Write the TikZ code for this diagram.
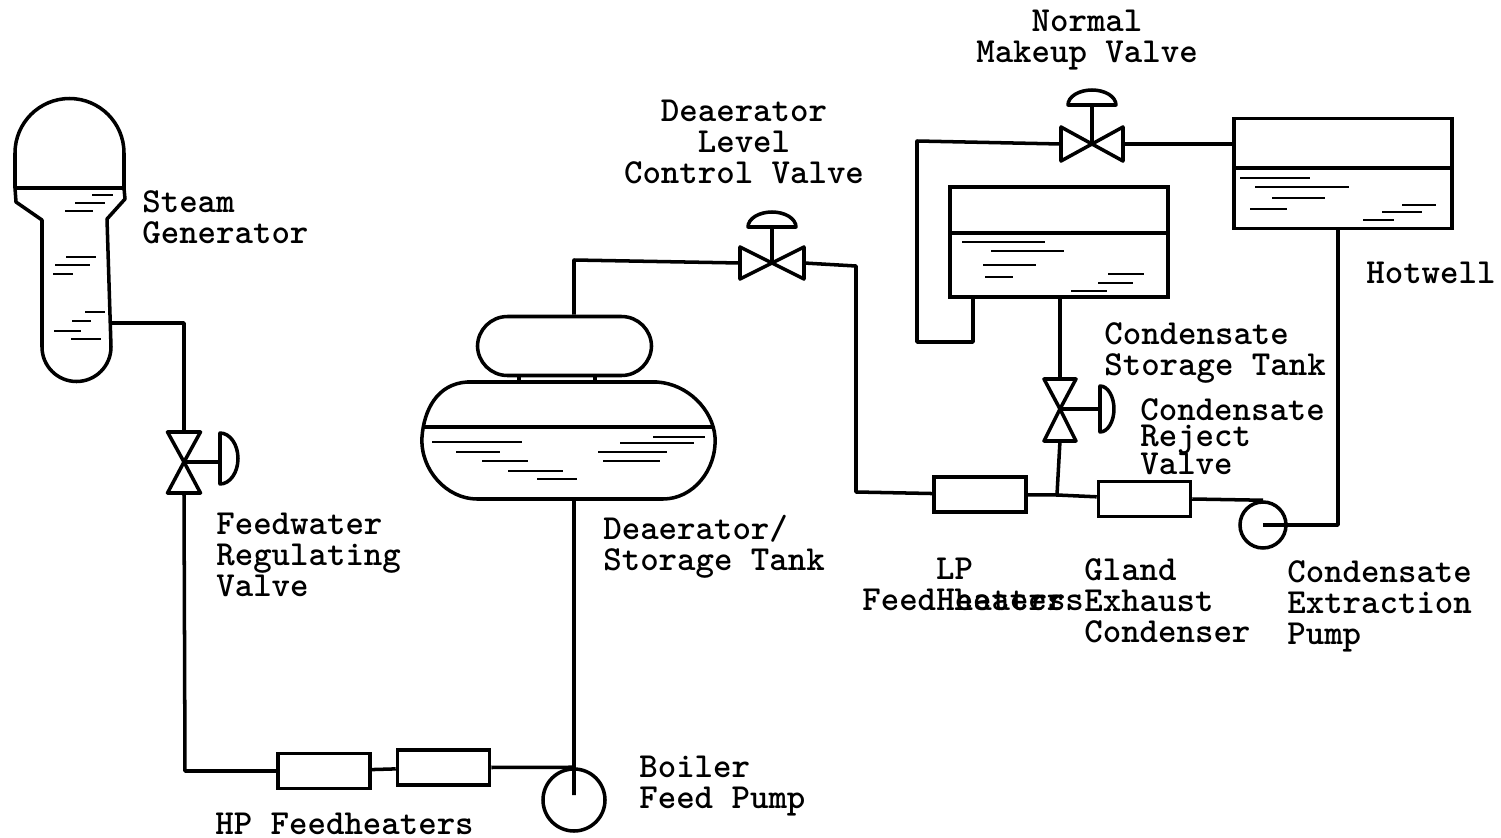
\documentclass[tikz,border=0pt]{standalone}
\usepackage{tikz,amsmath}
\usetikzlibrary{calc}
\tikzset{
	pipe/.style={black,line width=2pt,line join=round},
	ripple/.style={black,line width=1.4pt},
	heater/.style={draw,black,line width=2pt,rectangle,minimum width=1.84cm,minimum height=0.7cm},
	tank/.style={draw,black,line width=2pt,rectangle,minimum width=4.36cm,minimum height=2.2cm},
	pump/.style={draw,black,line width=2pt,circle},
	tag/.style={font=\fontsize{20}{17.6}\selectfont\ttfamily\bfseries,align=left,anchor=north west},
	ctag/.style={tag,align=center,anchor=north}
}
\begin{document}
\begin{tikzpicture}[scale=0.2]
		\tikzstyle{every node}+=[inner sep=0pt]
		\useasboundingbox (0,0) rectangle (150.1,-83.8);
		\coordinate (sgout) at (11.1,-32.3);
		\coordinate (fwv) at (18.4,-46.2);
		\coordinate (dlv) at (77.2,-26.3);
		\coordinate (nmv) at (109.2,-14.4);
		\coordinate (crv) at (106,-40.9);
		\coordinate (bend1) at (18.5,-77.1);
		\coordinate (bend2) at (57.4,-26);
		\coordinate (bend3) at (85.6,-26.6);
		\coordinate (bend4) at (85.6,-49.2);
		\coordinate (bend5) at (91.7,-14.1);
		\coordinate (bend6) at (91.7,-34.2);
		\coordinate (bend7) at (97.3,-34.2);
		\coordinate (tee) at (105.7,-49.5);
		\coordinate (bend8) at (133.8,-52.5);
		\node (hpa) [heater] at (32.4,-77.1) {};
		\node (hpb) [heater] at (44.35,-76.75) {};
		\node (bfp) [pump,minimum size=1.24cm] at (57.4,-80) {};
		\node (lpfh) [heater] at (98,-49.45) {};
		\node (gland) [heater] at (114.45,-49.9) {};
		\node (cep) [pump,minimum size=0.92cm] at (126.3,-52.5) {};
		\node (cst) [tank] at (105.9,-24.2) {};
		\node (hotwell) [tank] at (134.3,-17.35) {};
		\node (vent) [draw,black,line width=2pt,rectangle,rounded corners=0.6cm,minimum width=3.48cm,minimum height=1.18cm] at (56.45,-34.6) {};
		\coordinate (drum) at (57.4,-49.9);
		\draw [pipe] (1.5,-18.8) -- (1.5,-15.3) arc (180:0:5.45) -- (12.4,-18.8);
		\draw [pipe] (1.5,-18.8) -- (12.4,-18.8);
		\draw [pipe] (1.5,-18.8) -- (1.6,-20.2) -- (4.2,-22) -- (4.2,-34.7) arc (180:360:3.45) -- (10.7,-21.9) -- (12.5,-19.9) -- (12.4,-18.8);
		\draw [ripple] (9.2,-19.5) -- (11.3,-19.5);
		\draw [ripple] (7.5,-20.3) -- (10.5,-20.3);
		\draw [ripple] (6.5,-21.1) -- (9.3,-21.1);
		\draw [ripple] (6.6,-25.7) -- (9.6,-25.7);
		\draw [ripple] (5.5,-26.5) -- (9,-26.5);
		\draw [ripple] (5.3,-27.4) -- (7.3,-27.4);
		\draw [ripple] (8.5,-31.2) -- (10.5,-31.2);
		\draw [ripple] (7.2,-32.1) -- (9.1,-32.1);
		\draw [ripple] (5.4,-33.1) -- (8.1,-33.1);
		\draw [ripple] (7.1,-33.9) -- (10.1,-33.9);
		\draw [pipe] (sgout) -| ($(fwv)+(0,3)$);
		\draw [pipe] (fwv) -- ($(fwv)+(-1.65,3)$) -- ($(fwv)+(1.65,3)$) -- cycle;
		\draw [pipe] (fwv) -- ($(fwv)+(-1.65,-3.1)$) -- ($(fwv)+(1.65,-3.1)$) -- cycle;
		\draw [pipe] (fwv) -- ($(fwv)+(3.6,0)$);
		\draw [pipe] ($(fwv)+(3.6,2.9)$) arc (90:-90:1.8 and 2.55) -- cycle;
		\draw [pipe] ($(fwv)+(0,-3.1)$) -- (bend1) -- (hpa);
		\draw [pipe] (hpa) -- (hpb);
		\draw [pipe] (hpb.east) -- (bfp.north);
		\draw [pipe] (drum) -- (57.4,-79.5);
		\draw [pipe] (46.7,-38.2) -- (65.7,-38.2) .. controls (68.8,-38.4) and (71.3,-41) .. (71.5,-43.7) .. controls (71.7,-47) and (69.3,-49.9) .. (66.3,-49.9) -- (47.7,-49.9) .. controls (44.7,-49.9) and (42,-47) .. (42.2,-43.7) .. controls (42.4,-41) and (43.7,-38.4) .. (46.7,-38.2);
		\draw [pipe] (42.35,-42.7) -- (71.35,-42.7);
		\draw [pipe] (51.9,-37.5) -- (51.9,-38.2);
		\draw [pipe] (59.5,-37.5) -- (59.5,-38.2);
		\draw [ripple] (43.2,-44.2) -- (52.2,-44.2);
		\draw [ripple] (45.6,-45.2) -- (50,-45.2);
		\draw [ripple] (48.2,-46.1) -- (52.8,-46.1);
		\draw [ripple] (50.8,-47.1) -- (56.3,-47.1);
		\draw [ripple] (53.7,-47.9) -- (57.7,-47.9);
		\draw [ripple] (65.3,-43.7) -- (70.5,-43.7);
		\draw [ripple] (62,-44.3) -- (69.4,-44.3);
		\draw [ripple] (59.8,-45.2) -- (66.7,-45.2);
		\draw [ripple] (60.3,-46.1) -- (66,-46.1);
		\draw [pipe] (vent.north -| bend2) -- (bend2) -- ($(dlv)+(-3.2,0)$);
		\draw [pipe] (dlv) -- ($(dlv)+(-3.2,1.6)$) -- ($(dlv)+(-3.2,-1.6)$) -- cycle;
		\draw [pipe] (dlv) -- ($(dlv)+(3.2,1.6)$) -- ($(dlv)+(3.2,-1.6)$) -- cycle;
		\draw [pipe] (dlv) -- ($(dlv)+(0,3.6)$);
		\draw [pipe] ($(dlv)+(-2.4,3.6)$) arc (180:0:2.4 and 1.5) -- cycle;
		\draw [pipe] ($(dlv)+(3.2,0)$) -- (bend3) -- (bend4) -- (lpfh);
		\draw [pipe] (lpfh) -- (tee) -- (gland);
		\draw [pipe] (gland.east) -- (cep.north);
		\draw [pipe] (cep.center) -- (bend8) -- (hotwell.south -| bend8);
		\draw [pipe] (crv) -- ($(crv)+(-1.6,3)$) -- ($(crv)+(1.6,3)$) -- cycle;
		\draw [pipe] (crv) -- ($(crv)+(-1.6,-3.2)$) -- ($(crv)+(1.6,-3.2)$) -- cycle;
		\draw [pipe] (crv) -- ($(crv)+(4,0)$);
		\draw [pipe] ($(crv)+(4,2.3)$) arc (90:-90:1.4 and 2.3) -- cycle;
		\draw [pipe] (cst.south -| crv) -- ($(crv)+(0,3)$);
		\draw [pipe] ($(crv)+(0,-3.2)$) -- (tee);
		\draw [pipe] (nmv) -- ($(nmv)+(-3.1,1.7)$) -- ($(nmv)+(-3.1,-1.7)$) -- cycle;
		\draw [pipe] (nmv) -- ($(nmv)+(3.1,1.7)$) -- ($(nmv)+(3.1,-1.7)$) -- cycle;
		\draw [pipe] (nmv) -- ($(nmv)+(0,3.9)$);
		\draw [pipe] ($(nmv)+(-2.4,3.9)$) arc (180:0:2.4 and 1.5) -- cycle;
		\draw [pipe] ($(nmv)+(-3.1,0)$) -- (bend5) -- (bend6) -- (bend7) -- (cst.south -| bend7);
		\draw [pipe] ($(nmv)+(3.1,0)$) -- (hotwell.west |- nmv);
		\draw [pipe] (cst.west |- 0,-23.3) -- (cst.east |- 0,-23.3);
		\draw [ripple] (96.2,-24.2) -- (104.5,-24.2);
		\draw [ripple] (99.1,-25.1) -- (106.4,-25.1);
		\draw [ripple] (98.3,-26.5) -- (103.6,-26.5);
		\draw [ripple] (98.5,-27.7) -- (101.3,-27.7);
		\draw [ripple] (110.8,-27.4) -- (114.4,-27.4);
		\draw [ripple] (109.8,-28.3) -- (113.3,-28.3);
		\draw [ripple] (107.1,-29.1) -- (110.7,-29.1);
		\draw [pipe] (hotwell.west |- 0,-16.8) -- (hotwell.east |- 0,-16.8);
		\draw [ripple] (124,-17.8) -- (131,-17.8);
		\draw [ripple] (125.5,-18.7) -- (134.9,-18.7);
		\draw [ripple] (127.2,-19.8) -- (132.5,-19.8);
		\draw [ripple] (125,-20.9) -- (128.7,-20.9);
		\draw [ripple] (140.2,-20.5) -- (143.6,-20.5);
		\draw [ripple] (138.2,-21.2) -- (142.2,-21.2);
		\draw [ripple] (136.3,-22) -- (139.4,-22);
		\node (sglabel) [tag] at (14.2,-19) {Steam\\Generator};
		\node (fwvlabel) [tag] at (21.6,-51.3) {Feedwater\\Regulating\\Valve};
		\node (dlvlabel) [ctag] at (74.4,-10) {Deaerator\\Level\\Control Valve};
		\node (tanklabel) [tag] at (60.3,-51.5) {Deaerator/\\Storage Tank};
		\node (nmvlabel) [ctag] at (108.7,-1) {Normal\\Makeup Valve};
		\node (hwlabel) [tag] at (136.6,-26.2) {Hotwell};
		\node (cstlabel) [tag] at (110.4,-32.2) {Condensate\\Storage Tank};
		\node (crvlabel) [tag,font=\fontsize{20}{15.2}\selectfont\ttfamily\bfseries] at (114,-39.8) {Condensate\\Reject\\[-1.7pt]Valve};
		\node (lplabel) [tag] at (86.2,-55.8) {\phantom{Feed}LP\\Feed heaters};
		\node (lplabel2) [tag] at (93.6,-58.9) {Heaters};
		\node (glabel) [tag] at (108.4,-55.8) {Gland\\Exhaust\\Condenser};
		\node (ceplabel) [tag] at (128.7,-56) {Condensate\\Extraction\\Pump};
		\node (bfplabel) [tag] at (63.9,-75.6) {Boiler\\Feed Pump};
		\node (hplabel) [tag] at (21.5,-81.3) {HP Feedheaters};
	\end{tikzpicture}
\end{document}
